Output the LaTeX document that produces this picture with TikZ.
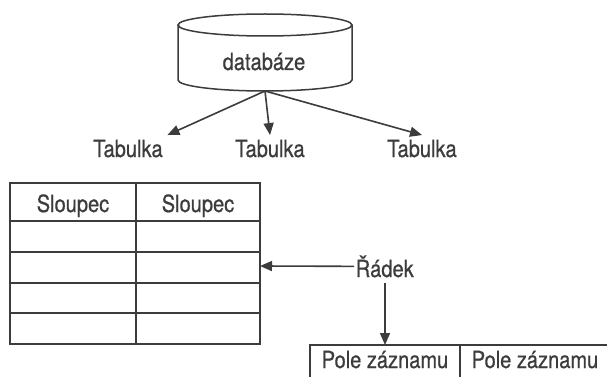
\documentclass[tikz,border=0pt]{standalone}
\usepackage{fontspec}
\newfontfamily\diafont{TeX Gyre Heros}[FakeStretch=0.85, FakeBold=0.6]
\usetikzlibrary{arrows.meta}
\definecolor{ink}{HTML}{3C3C3C}

\begin{document}
\begin{tikzpicture}[x=1pt, y=-1pt, line width=1.5pt, draw=ink,
    lbl/.style={text=ink, inner sep=4pt, font=\diafont\fontsize{23.6}{28}\selectfont},
    arr/.style={-{Triangle[length=12pt, width=10pt]}, ink, line width=1.6pt}]
            \useasboundingbox (0,0) rectangle (607,377);
            \clip (0,0) rectangle (607,377);
            \fill[white] (0,0) rectangle (607,377);
            \draw (265,25) ellipse [x radius=87, y radius=11];
            \draw (178,25) -- (178,80) arc [start angle=180, end angle=0, x radius=87, y radius=11] -- (352,25);
            \node[lbl, anchor=base] (db) at (264,70) {databáze};
            \coordinate (dbbot) at (265,91);
            \node[lbl, anchor=base] (tab1) at (128,157) {Tabulka};
            \node[lbl, anchor=base] (tab2) at (270,157) {Tabulka};
            \node[lbl, anchor=base] (tab3) at (422,157) {Tabulka};
            \draw[arr] (dbbot) -- (tab1.north east);
            \draw[arr] (dbbot) -- (tab2.north);
            \draw[arr] (dbbot) -- (tab3.north);
            \draw (10,183) rectangle (260,344) (136,183) -- (136,344);
            \foreach \y in {221,252,283,313} \draw (10,\y) -- (260,\y);
            \node[lbl, anchor=base] (col1) at (73,212) {Sloupec};
            \node[lbl, anchor=base] (col2) at (198,212) {Sloupec};
            \coordinate (row) at (260,266);
            \node[lbl, anchor=base west, inner sep=1pt] (rad) at (354,277) {Řádek};
            \draw[arr] (rad.west) -- (row);
            \draw (310,420) -- (310,345) -- (620,345) (460,345) -- (460,420);
            \node[lbl, anchor=base] (pole1) at (385,368) {Pole záznamu};
            \node[lbl, anchor=base] (pole2) at (535,368) {Pole záznamu};
            \coordinate (poletop) at (385,345);
            \draw[arr] (rad.south -| poletop) ++(0,4) -- (poletop);
        \end{tikzpicture}
\end{document}
